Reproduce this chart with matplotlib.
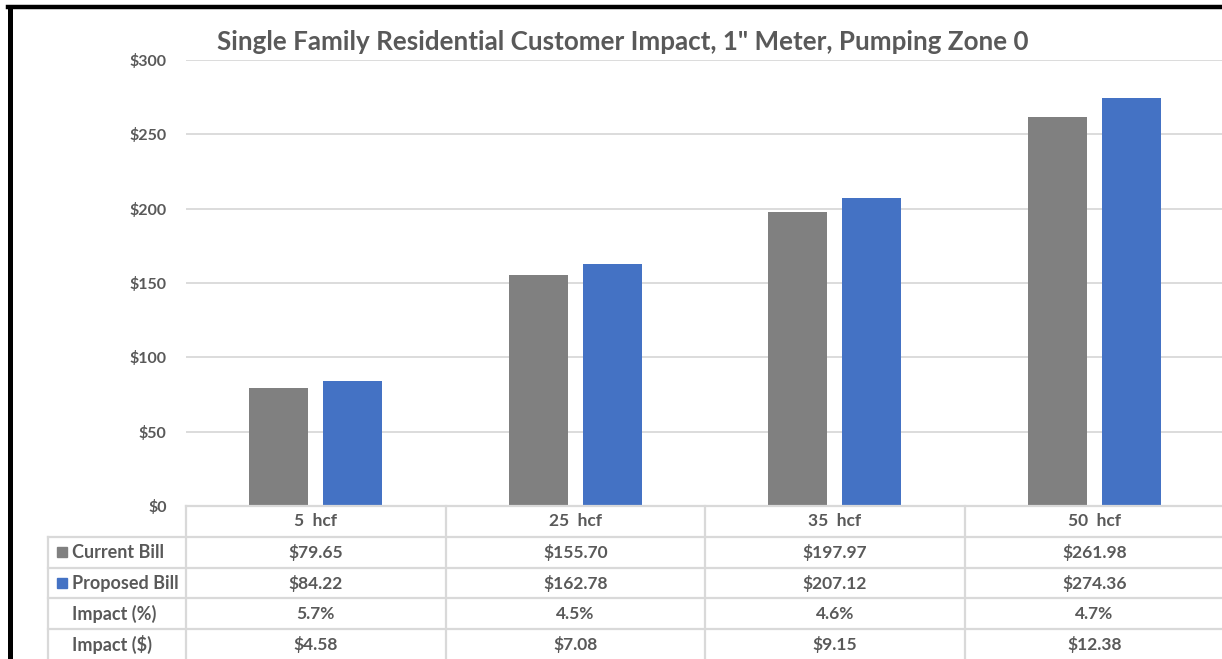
import numpy as np
import matplotlib.pyplot as plt
from matplotlib.patches import Rectangle
from matplotlib.lines import Line2D

plt.rcParams['font.family'] = ['Lato', 'DejaVu Sans']

categories = ['5  hcf', '25  hcf', '35  hcf', '50  hcf']
current_bill = [79.65, 155.70, 197.97, 261.98]
proposed_bill = [84.22, 162.78, 207.12, 274.36]
impact_pct = ['5.7%', '4.5%', '4.6%', '4.7%']
impact_usd = ['$4.58', '$7.08', '$9.15', '$12.38']

gray = '#808080'
blue = '#4472C4'
txt = '#595959'
grid = '#d9d9d9'

W, H = 1222, 659
fig = plt.figure(figsize=(W / 100, H / 100), dpi=100)

# plot area in pixels
left_px, right_px, top_px, base_px = 186, 1224, 60, 506
ax = fig.add_axes([left_px / W, (H - base_px) / H,
                   (right_px - left_px) / W, (base_px - top_px) / H])
ind = np.arange(len(categories))
width = 0.227
off = 0.143
ax.bar(ind - off, current_bill, width, color=gray)
ax.bar(ind + off, proposed_bill, width, color=blue)
ax.set_xlim(-0.5, len(categories) - 0.5)
ax.set_ylim(0, 300)
ax.set_yticks(np.arange(0, 301, 50))
ax.set_yticklabels(['$%d' % v for v in np.arange(0, 301, 50)])
ax.set_xticks([])
ax.grid(axis='y', color=grid, linewidth=1.3)
ax.set_axisbelow(True)
for s in ax.spines.values():
    s.set_visible(False)
ax.tick_params(axis='y', length=0, pad=14, labelsize=11.5, labelcolor=txt)
for t in ax.get_yticklabels():
    t.set_fontweight('bold')

# data table below the plot
tab = fig.add_axes([left_px / W, (H - 660) / H, (right_px - left_px) / W, 154 / H])
tab.set_xlim(-0.5, len(categories) - 0.5)
tab.set_ylim(5, 0)
tab.axis('off')
cat_px = (right_px - left_px) / len(categories)


def px(x):
    return -0.5 + (x - left_px) / cat_px


lw = 1.6
lab_left = px(48)
tab.add_line(Line2D([-0.5, 3.5], [0, 0], color=grid, lw=lw, clip_on=False))
for r in range(1, 5):
    tab.add_line(Line2D([lab_left, 3.5], [r, r], color=grid, lw=lw, clip_on=False))
tab.add_line(Line2D([lab_left, lab_left], [1, 5], color=grid, lw=lw, clip_on=False))
for c in range(len(categories) + 1):
    tab.add_line(Line2D([c - 0.5, c - 0.5], [0, 5], color=grid, lw=lw, clip_on=False))

rows = [categories,
        ['$%.2f' % v for v in current_bill],
        ['$%.2f' % v for v in proposed_bill],
        impact_pct,
        impact_usd]
for r, vals in enumerate(rows):
    for c, v in enumerate(vals):
        tab.text(c, r + 0.5, v, ha='center', va='center', fontsize=12.5,
                 fontweight='bold', color=txt)

labels = ['Current Bill', 'Proposed Bill', 'Impact (%)', 'Impact ($)']
keys = [gray, blue, None, None]
for i, (lab, k) in enumerate(zip(labels, keys)):
    r = i + 1
    tab.text(px(72), r + 0.5, lab, ha='left', va='center', fontsize=13,
             fontweight='bold', color=txt, clip_on=False)
    if k:
        tab.add_patch(Rectangle((px(57), r + 0.33), px(67) - px(57), 0.34,
                                color=k, clip_on=False))

fig.text(623 / W, 1 - 42 / H, 'Single Family Residential Customer Impact, 1" Meter, Pumping Zone 0',
         ha='center', va='center', fontsize=18.7, fontweight='bold', color=txt)

# black frame on left and top
fig.add_artist(Line2D([9.5 / W, 9.5 / W], [0, 1 - 7 / H], color='black', lw=3.6))
fig.add_artist(Line2D([8 / W, 1], [1 - 7 / H, 1 - 7 / H], color='black', lw=3.2))

fig.savefig('out.png', dpi=100)
